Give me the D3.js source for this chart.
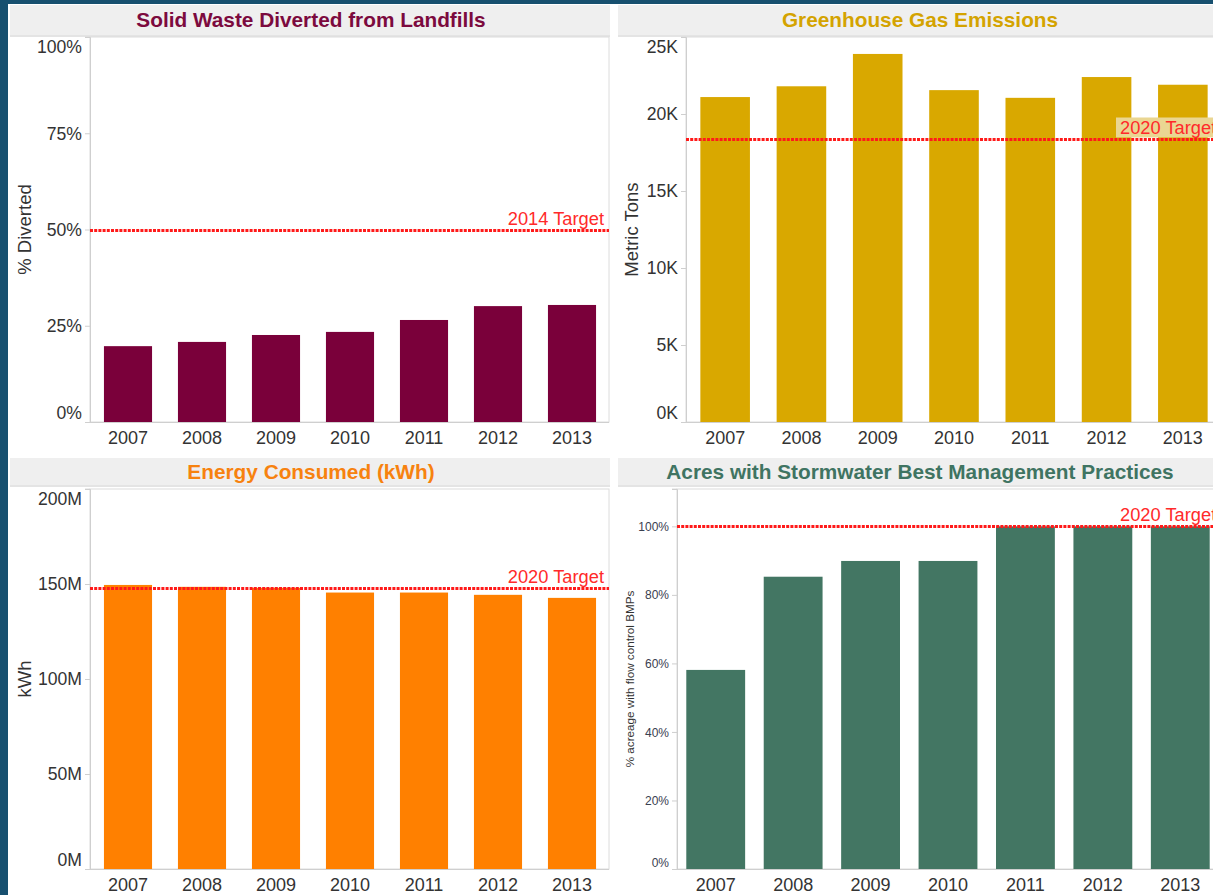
<!DOCTYPE html>
<html>
<head>
<meta charset="utf-8">
<script src="https://cdn.jsdelivr.net/npm/d3@7"></script>
<style>
  html, body { margin: 0; padding: 0; background: #17506f; overflow: hidden; }
  svg { display: block; font-family: "Liberation Sans", Arial, sans-serif; }
</style>
</head>
<body>
<svg id="chart" width="1213" height="895"></svg>
<script>
// ---------- data ----------
const years = ["2007", "2008", "2009", "2010", "2011", "2012", "2013"];

const wasteDiverted = [0.197, 0.208, 0.226, 0.234, 0.265, 0.301, 0.304];
const wasteTarget = 0.50;
const wasteTicks = [0, 0.25, 0.5, 0.75, 1.0];
const wasteTickLabels = ["0%", "25%", "50%", "75%", "100%"];

const ghgEmissions = [21100, 21800, 23900, 21550, 21050, 22400, 21900];
const ghgTarget = 18400;
const ghgTicks = [0, 5000, 10000, 15000, 20000, 25000];
const ghgTickLabels = ["0K", "5K", "10K", "15K", "20K", "25K"];

const energyConsumed = [149.5e6, 148.5e6, 148.0e6, 145.5e6, 145.5e6, 144.3e6, 142.7e6];
const energyTarget = 147.9e6;
const energyTicks = [0, 50e6, 100e6, 150e6, 200e6];
const energyTickLabels = ["0M", "50M", "100M", "150M", "200M"];

const stormwaterBMP = [0.581, 0.853, 0.899, 0.899, 1.0, 1.0, 1.0];
const stormTarget = 1.0;
const stormTicks = [0, 0.2, 0.4, 0.6, 0.8, 1.0];
const stormTickLabels = ["0%", "20%", "40%", "60%", "80%", "100%"];

const panelTitles = [
  "Solid Waste Diverted from Landfills",
  "Greenhouse Gas Emissions",
  "Energy Consumed (kWh)",
  "Acres with Stormwater Best Management Practices"
];
const axisTitles = ["% Diverted", "Metric Tons", "kWh", "% acreage with flow control BMPs"];
const targetLabels = ["2014 Target", "2020 Target", "2020 Target", "2020 Target"];

// ---------- drawing ----------
const svg = d3.select("#chart");

// white content area
svg.append("rect").attr("x", 8).attr("y", 4).attr("width", 1213).attr("height", 900).attr("fill", "#ffffff");

function panel(cfg) {
  const g = svg.append("g");
  // title bar
  g.append("rect").attr("x", cfg.tbX0).attr("y", cfg.tbY0)
    .attr("width", cfg.tbX1 - cfg.tbX0).attr("height", cfg.tbY1 - cfg.tbY0).attr("fill", "#efefef");
  g.append("rect").attr("x", cfg.tbX0).attr("y", cfg.tbY1)
    .attr("width", cfg.tbX1 - cfg.tbX0).attr("height", 2).attr("fill", "#e4e4e4");
  g.append("text").attr("x", cfg.titleX).attr("y", cfg.titleY)
    .attr("text-anchor", "middle").attr("font-weight", "bold").attr("font-size", 20.8)
    .attr("fill", cfg.titleColor).text(cfg.title);

  const x = d3.scaleBand().domain(years).range([cfg.xr0, cfg.xr1])
    .paddingInner(cfg.pad).paddingOuter(cfg.pad / 2);
  const y = d3.scaleLinear().domain(cfg.yDomain).range([cfg.bottom, cfg.top]);

  // plot border
  g.append("rect").attr("x", cfg.axisX).attr("y", cfg.top)
    .attr("width", cfg.right - cfg.axisX).attr("height", cfg.bottom - cfg.top)
    .attr("fill", "#ffffff").attr("stroke", "#dcdcdc").attr("stroke-width", 1);
  g.append("line").attr("x1", cfg.axisX - 5).attr("x2", cfg.axisX).attr("y1", cfg.top).attr("y2", cfg.top)
    .attr("stroke", "#dcdcdc");

  // bars
  g.selectAll("rect.bar").data(cfg.values).join("rect").attr("class", "bar")
    .attr("x", (d, i) => x(years[i])).attr("width", x.bandwidth())
    .attr("y", d => y(d)).attr("height", d => y(0) - y(d))
    .attr("fill", cfg.barColor);

  // y axis
  const yAxis = d3.axisLeft(y).tickValues(cfg.ticks)
    .tickFormat((d, i) => cfg.tickLabels[i]).tickSize(5).tickPadding(3);
  const ya = g.append("g").attr("transform", `translate(${cfg.axisX},0)`).call(yAxis);
  ya.select(".domain").attr("stroke", "#cfcfcf");
  ya.selectAll(".tick line").attr("stroke", "#cfcfcf");
  ya.selectAll(".tick text").attr("font-size", cfg.tickSize).attr("fill", cfg.tickColor)
    .attr("font-family", "Liberation Sans, Arial, sans-serif")
    .attr("dy", "0.34em")
    .attr("y", d => {
      const py = y(d);
      const half = cfg.tickSize * 0.53;
      if (py - cfg.top < half) return cfg.top + half - py;
      if (cfg.bottom - py < half) return cfg.bottom - half - py;
      return 0;
    });

  // baseline
  g.append("line").attr("x1", cfg.axisX - 5).attr("x2", cfg.right)
    .attr("y1", cfg.bottom + 0.5).attr("y2", cfg.bottom + 0.5).attr("stroke", "#cfcfcf");

  // x axis labels
  const xAxis = d3.axisBottom(x).tickSize(0).tickPadding(9);
  const xa = g.append("g").attr("transform", `translate(0,${cfg.bottom})`).call(xAxis);
  xa.select(".domain").remove();
  xa.selectAll(".tick text").attr("font-size", 18).attr("fill", "#333333")
    .attr("font-family", "Liberation Sans, Arial, sans-serif");

  // axis title
  g.append("text")
    .attr("transform", `translate(${cfg.axisTitleX},${(cfg.top + cfg.bottom) / 2}) rotate(-90)`)
    .attr("text-anchor", "middle").attr("font-size", cfg.axisTitleSize).attr("fill", "#333333")
    .attr("dy", "0.35em").text(cfg.axisTitle);

  // target line
  const ty = Math.round(y(cfg.target)) + 0.5;
  g.append("line").attr("x1", cfg.axisX).attr("x2", cfg.right)
    .attr("y1", ty).attr("y2", ty)
    .attr("stroke", "#ff1a1a").attr("stroke-width", 3).attr("stroke-dasharray", "3,1.2");

  const lbl = g.append("text").attr("font-size", 18.3).attr("fill", "#ff2a2a")
    .attr("y", ty - 6).text(cfg.targetLabel);
  if (cfg.labelAnchorEnd) {
    lbl.attr("x", cfg.right - 5).attr("text-anchor", "end");
  } else {
    lbl.attr("x", cfg.labelX).attr("text-anchor", "start");
    if (cfg.labelBg) {
      const bb = lbl.node().getBBox();
      g.insert("rect", () => lbl.node())
        .attr("x", bb.x - 4).attr("y", ty - 22).attr("width", bb.width + 10).attr("height", 20)
        .attr("fill", cfg.labelBg);
    }
  }
}

panel({
  title: panelTitles[0], titleColor: "#7c0a3e", titleX: 311, titleY: 27,
  tbX0: 10, tbX1: 610, tbY0: 5, tbY1: 35,
  axisX: 90, right: 609, top: 37, bottom: 422, xr0: 91, xr1: 609, pad: 0.35,
  yDomain: [0, 1], values: wasteDiverted, barColor: "#7a003a",
  ticks: wasteTicks, tickLabels: wasteTickLabels, tickSize: 17.6, tickColor: "#333333",
  axisTitle: axisTitles[0], axisTitleX: 25, axisTitleSize: 18.5,
  target: wasteTarget, targetLabel: targetLabels[0], labelAnchorEnd: true
});

panel({
  title: panelTitles[1], titleColor: "#d4a300", titleX: 920, titleY: 27,
  tbX0: 618, tbX1: 1213, tbY0: 5, tbY1: 35,
  axisX: 686, right: 1225, top: 37, bottom: 422, xr0: 687, xr1: 1221, pad: 0.35,
  yDomain: [0, 25000], values: ghgEmissions, barColor: "#d9a800",
  ticks: ghgTicks, tickLabels: ghgTickLabels, tickSize: 17.6, tickColor: "#333333",
  axisTitle: axisTitles[1], axisTitleX: 632, axisTitleSize: 18.5,
  target: ghgTarget, targetLabel: targetLabels[1], labelAnchorEnd: false, labelX: 1120, labelBg: "#ead692"
});

panel({
  title: panelTitles[2], titleColor: "#f7820f", titleX: 311, titleY: 479,
  tbX0: 10, tbX1: 610, tbY0: 458, tbY1: 485,
  axisX: 90, right: 609, top: 489, bottom: 869, xr0: 91, xr1: 609, pad: 0.35,
  yDomain: [0, 200e6], values: energyConsumed, barColor: "#ff8000",
  ticks: energyTicks, tickLabels: energyTickLabels, tickSize: 17.6, tickColor: "#333333",
  axisTitle: axisTitles[2], axisTitleX: 25, axisTitleSize: 18.5,
  target: energyTarget, targetLabel: targetLabels[2], labelAnchorEnd: true
});

panel({
  title: panelTitles[3], titleColor: "#3f7462", titleX: 920, titleY: 479,
  tbX0: 618, tbX1: 1213, tbY0: 458, tbY1: 485,
  axisX: 677, right: 1225, top: 489, bottom: 869, xr0: 677, xr1: 1219, pad: 0.24,
  yDomain: [0, 1.109], values: stormwaterBMP, barColor: "#437663",
  ticks: stormTicks, tickLabels: stormTickLabels, tickSize: 12, tickColor: "#3a4050",
  axisTitle: axisTitles[3], axisTitleX: 630, axisTitleSize: 11.7,
  target: stormTarget, targetLabel: targetLabels[3], labelAnchorEnd: false, labelX: 1120
});
</script>
</body>
</html>
